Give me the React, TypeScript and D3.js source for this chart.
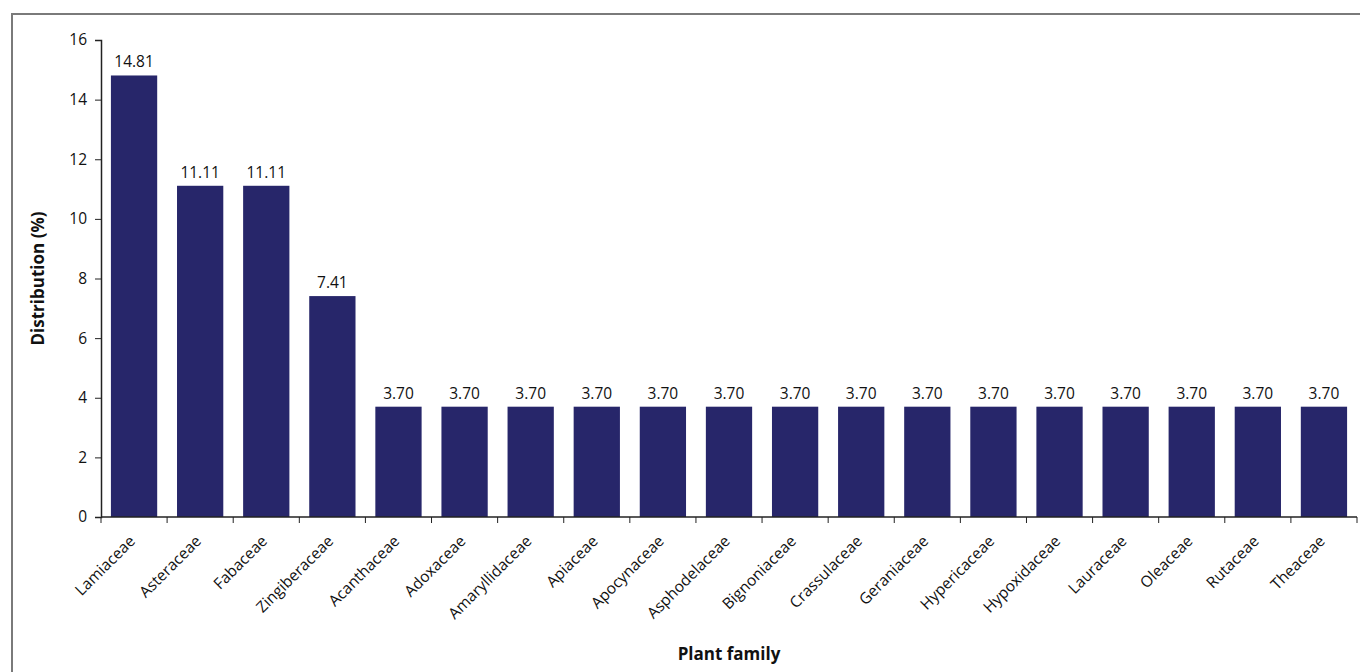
import { useEffect, useRef } from "react";
import * as d3 from "d3";

const families = [
  "Lamiaceae", "Asteraceae", "Fabaceae", "Zingiberaceae", "Acanthaceae",
  "Adoxaceae", "Amaryllidaceae", "Apiaceae", "Apocynaceae", "Asphodelaceae",
  "Bignoniaceae", "Crassulaceae", "Geraniaceae", "Hypericaceae", "Hypoxidaceae",
  "Lauraceae", "Oleaceae", "Rutaceae", "Theaceae",
];
const distribution = [
  14.81, 11.11, 11.11, 7.41, 3.7, 3.7, 3.7, 3.7, 3.7, 3.7,
  3.7, 3.7, 3.7, 3.7, 3.7, 3.7, 3.7, 3.7, 3.7,
];
const yTicks = [0, 2, 4, 6, 8, 10, 12, 14, 16];

const FONT = "'Open Sans', sans-serif";

export default function App() {
  const svgRef = useRef(null);

  useEffect(() => {
    if (!svgRef.current) return;
    const width = 1360;
    const height = 672;
    const left = 101;
    const right = 1357;
    const top = 40;
    const bottom = 517;

    const svg = d3.select(svgRef.current);
    svg.selectAll("*").remove();

    // outer frame
    svg
      .append("rect")
      .attr("x", 12)
      .attr("y", 14)
      .attr("width", 1360)
      .attr("height", 700)
      .attr("fill", "none")
      .attr("stroke", "#7a7a7a")
      .attr("stroke-width", 2);

    const x = d3.scaleBand().domain(families).range([left, right]).paddingInner(0.3).paddingOuter(0.15);
    const y = d3.scaleLinear().domain([0, 16]).range([bottom, top]);

    svg
      .selectAll("rect.bar")
      .data(families)
      .enter()
      .append("rect")
      .attr("class", "bar")
      .attr("x", (d) => x(d)!)
      .attr("y", (d, i) => y(distribution[i]))
      .attr("width", x.bandwidth())
      .attr("height", (d, i) => bottom - y(distribution[i]))
      .attr("fill", "#27266a");

    svg
      .selectAll("text.val")
      .data(families)
      .enter()
      .append("text")
      .attr("class", "val")
      .attr("x", (d) => x(d)! + x.bandwidth() / 2)
      .attr("y", (d, i) => y(distribution[i]) - 8)
      .attr("text-anchor", "middle")
      .attr("font-family", FONT)
      .attr("font-size", "15.5px")
      .attr("fill", "#111")
      .text((d, i) => distribution[i].toFixed(2));

    // y axis
    const yAxis = svg
      .append("g")
      .attr("transform", `translate(${left},0)`)
      .call(d3.axisLeft(y).tickValues(yTicks).tickSize(6).tickPadding(8));
    yAxis.select(".domain").attr("stroke", "#222").attr("stroke-width", 1.5);
    yAxis.selectAll(".tick line").attr("stroke", "#222");
    yAxis
      .selectAll(".tick text")
      .attr("font-family", FONT)
      .attr("font-size", "15.5px")
      .attr("fill", "#111");

    // x axis with ticks at band boundaries
    const boundaries = d3.range(families.length + 1).map((i) => left + ((right - left) / families.length) * i);
    svg
      .append("line")
      .attr("x1", left)
      .attr("x2", right)
      .attr("y1", bottom)
      .attr("y2", bottom)
      .attr("stroke", "#222")
      .attr("stroke-width", 1.5);
    svg
      .selectAll("line.xt")
      .data(boundaries)
      .enter()
      .append("line")
      .attr("class", "xt")
      .attr("x1", (d) => d)
      .attr("x2", (d) => d)
      .attr("y1", bottom)
      .attr("y2", bottom + 6)
      .attr("stroke", "#222");

    svg
      .selectAll("text.cat")
      .data(families)
      .enter()
      .append("text")
      .attr("class", "cat")
      .attr("transform", (d) => `translate(${x(d)! + x.bandwidth() / 2 + 2},${bottom + 25}) rotate(-45)`)
      .attr("text-anchor", "end")
      .attr("font-family", FONT)
      .attr("font-size", "15.5px")
      .attr("fill", "#111")
      .text((d) => d);

    svg
      .append("text")
      .attr("x", (left + right) / 2)
      .attr("y", 660)
      .attr("text-anchor", "middle")
      .attr("font-family", FONT)
      .attr("font-size", "17px")
      .attr("font-weight", "bold")
      .attr("fill", "#111")
      .text("Plant family");

    svg
      .append("text")
      .attr("transform", `translate(44,${(top + bottom) / 2}) rotate(-90)`)
      .attr("text-anchor", "middle")
      .attr("font-family", FONT)
      .attr("font-size", "17px")
      .attr("font-weight", "bold")
      .attr("fill", "#111")
      .text("Distribution (%)");

    svg.attr("width", width).attr("height", height);
  }, []);

  return (
    <svg
      ref={svgRef}
      style={{ position: "absolute", left: 0, top: 0, display: "block", background: "#fff" }}
    />
  );
}
